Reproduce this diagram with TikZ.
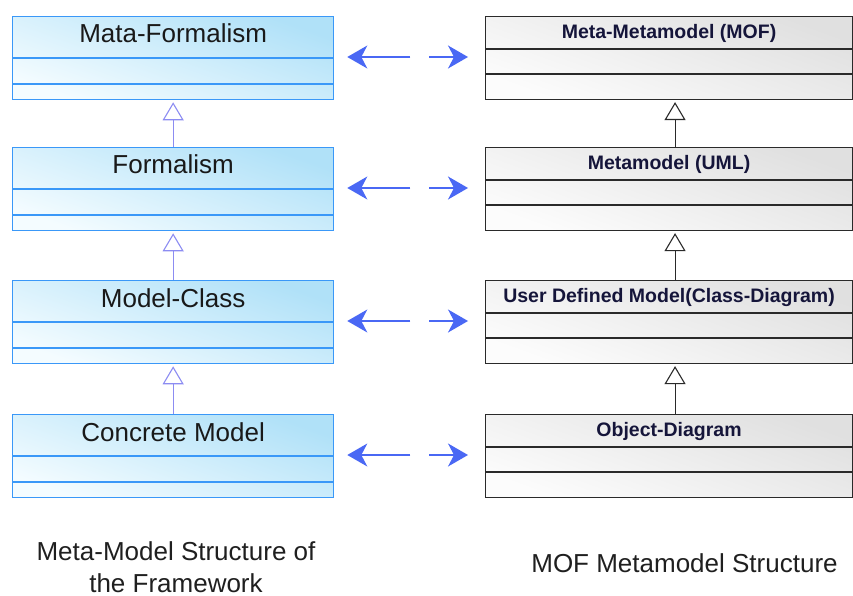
\documentclass[tikz,border=0pt]{standalone}
\usepackage{fontspec}
\setmainfont{Liberation Sans}
\usetikzlibrary{arrows.meta}
\definecolor{lborder}{HTML}{3A98F8}
\definecolor{lfillA}{HTML}{F4FCFF}
\definecolor{lfillB}{HTML}{B0E1F8}
\definecolor{rborder}{HTML}{2A2A2A}
\definecolor{rfillA}{HTML}{FCFCFC}
\definecolor{rfillB}{HTML}{E0E0E0}
\definecolor{arrowblue}{HTML}{4A68F4}
\definecolor{genblue}{HTML}{8C8CF2}
\definecolor{rtext}{HTML}{15153A}
\begin{document}
\begin{tikzpicture}[x=1pt,y=-1pt,
  lbox/.style={draw=lborder, line width=1.3pt, left color=lfillA, right color=lfillB, shading angle=160,
    minimum width=321pt, minimum height=83pt, inner sep=0pt, anchor=north west},
  ldiv/.style={draw=lborder, line width=1.3pt},
  ltitle/.style={anchor=base, inner sep=0pt, font=\fontsize{26}{30}\selectfont, text=black!90},
  rbox/.style={draw=rborder, line width=1.1pt, left color=rfillA, right color=rfillB, shading angle=160,
    minimum width=367pt, minimum height=83pt, inner sep=0pt, anchor=north west},
  rdiv/.style={draw=rborder, line width=1.1pt},
  rtitle/.style={anchor=base, inner sep=0pt, font=\bfseries\fontsize{19.5}{23}\selectfont, text=rtext},
  blarrow/.style={draw=arrowblue, line width=1.4pt, -{Stealth[length=20pt,width=23pt,inset=6pt]}},
  lgen/.style={draw=genblue, line width=1.1pt, -{Triangle[open,length=18pt,width=21pt,fill=white]}, shorten >=2pt},
  rgen/.style={draw=rborder, line width=1.1pt, -{Triangle[open,length=18pt,width=21pt,fill=white]}, shorten >=2pt},
  caption/.style={inner sep=0pt, font=\fontsize{26}{32}\selectfont, text=black!88, align=center}
]
\useasboundingbox (0,0) rectangle (853,596);

% left column
\foreach \i/\top/\title in {1/16/Mata-Formalism,2/147/Formalism,3/280/Model-Class,4/414/Concrete Model}{
  \node[lbox] (L\i) at (12,\top) {};
  \draw[ldiv] ([yshift=-42pt]L\i.north west) -- ([yshift=-42pt]L\i.north east);
  \draw[ldiv] ([yshift=-68pt]L\i.north west) -- ([yshift=-68pt]L\i.north east);
  \node[ltitle] (L\i t) at ([yshift=-27pt]L\i.north) {\title};
}

% right column
\foreach \i/\top/\title in {1/16/Meta-Metamodel (MOF),2/147/Metamodel (UML),3/280/User Defined Model(Class-Diagram),4/414/Object-Diagram}{
  \node[rbox] (R\i) at (485,\top) {};
  \draw[rdiv] ([yshift=-33pt]R\i.north west) -- ([yshift=-33pt]R\i.north east);
  \draw[rdiv] ([yshift=-58pt]R\i.north west) -- ([yshift=-58pt]R\i.north east);
  \node[rtitle] (R\i t) at ([yshift=-22.5pt]R\i.north) {\title};
}

% correspondence arrows
\foreach \i in {1,...,4}{
  \coordinate (ALtip\i) at ([xshift=13pt,yshift=-41pt]L\i.north east);
  \coordinate (ALtail\i) at ([xshift=76pt,yshift=-41pt]L\i.north east);
  \coordinate (ARtail\i) at ([xshift=95pt,yshift=-41pt]L\i.north east);
  \coordinate (ARtip\i) at ([xshift=-17pt]R\i.west |- ALtip\i);
  \draw[blarrow] (ALtail\i) -- (ALtip\i);
  \draw[blarrow] (ARtail\i) -- (ARtip\i);
}

% generalizations
\draw[lgen] (L2.north) -- (L1.south);
\draw[lgen] (L3.north) -- (L2.south);
\draw[lgen] (L4.north) -- (L3.south);
\draw[rgen] ([xshift=6pt]R2.north) -- ([xshift=6pt]R1.south);
\draw[rgen] ([xshift=6pt]R3.north) -- ([xshift=6pt]R2.south);
\draw[rgen] ([xshift=6pt]R4.north) -- ([xshift=6pt]R3.south);

% captions
\node[caption, anchor=north] (capL) at (176,541) {Meta-Model Structure of\\the Framework};
\node[caption, anchor=base] (capR) at (684.5,572) {MOF Metamodel Structure};
\end{tikzpicture}
\end{document}
